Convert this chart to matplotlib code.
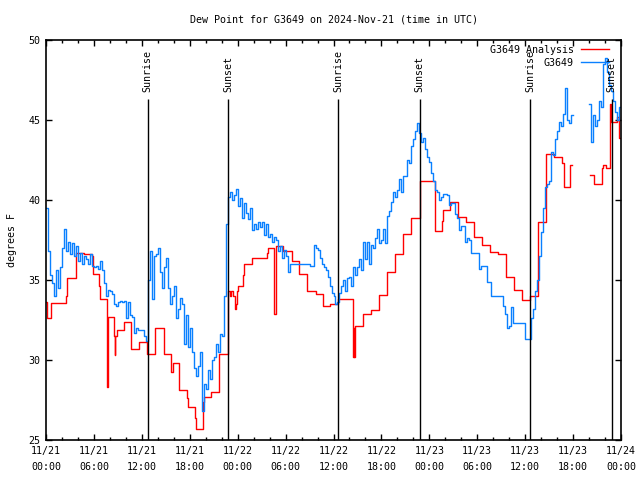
import numpy as np
import pandas as pd
import matplotlib
matplotlib.use("Agg")
import matplotlib.pyplot as plt
import matplotlib.dates as mdates

start = pd.Timestamp("2024-11-21 00:00")

# station obs, 4 readings per hour (every 15 min); nan = missing
obs_rows = [
    [39.5, 36.8, 35.3, 34.8],  # 11/21 00
    [34.0, 35.6, 34.5, 35.8],
    [37.0, 38.2, 36.8, 37.4],
    [36.6, 37.3, 36.5, 37.1],
    [36.2, 36.7, 36.0, 36.5],
    [36.3, 36.0, 36.6, 35.9],
    [35.8, 35.9, 35.7, 36.2],  # 06
    [35.6, 34.8, 34.0, 34.4],
    [34.3, 34.1, 33.5, 33.4],
    [33.6, 33.7, 33.6, 33.7],
    [32.6, 33.6, 32.8, 32.7],
    [31.7, 32.0, 31.9, 31.9],
    [31.9, 31.5, 31.2, 35.0],  # 12
    [36.8, 33.8, 36.5, 36.6],
    [37.0, 35.5, 34.5, 35.8],
    [36.4, 34.5, 33.5, 34.0],
    [34.6, 32.6, 33.2, 33.9],
    [33.5, 31.0, 32.8, 30.8],
    [32.0, 30.5, 29.5, 29.0],  # 18
    [29.6, 30.5, 26.8, 28.5],
    [28.2, 29.4, 28.8, 30.0],
    [30.2, 31.0, 30.5, 31.6],
    [31.5, 34.0, 38.5, 40.2],
    [40.5, 40.0, 40.3, 40.7],
    [39.6, 40.1, 38.9, 39.8],  # 11/22 00
    [39.2, 38.8, 39.5, 38.1],
    [38.5, 38.2, 38.6, 38.3],
    [38.6, 37.8, 38.5, 37.7],
    [37.9, 37.4, 37.7, 37.5],
    [36.8, 37.1, 36.4, 36.9],
    [36.5, 35.5, 36.0, 36.0],  # 06
    [36.0, 36.0, 36.0, 36.0],
    [36.0, 36.0, 36.0, 36.0],
    [35.9, 35.9, 37.2, 37.0],
    [36.9, 36.4, 36.0, 35.8],
    [35.6, 35.2, 34.6, 34.2],
    [34.0, 33.5, 33.6, 34.2],  # 12
    [34.6, 35.0, 34.3, 35.1],
    [35.2, 34.6, 35.8, 35.3],
    [35.8, 36.3, 35.6, 37.4],
    [36.3, 37.4, 36.0, 37.2],
    [37.0, 37.6, 38.2, 37.3],
    [37.5, 38.2, 37.3, 39.0],  # 18
    [39.3, 39.9, 40.5, 40.2],
    [40.6, 41.3, 40.5, 41.5],
    [41.5, 42.5, 42.3, 43.4],
    [43.8, 44.3, 44.8, 44.2],
    [43.6, 43.9, 43.2, 42.7],
    [42.4, 41.7, 41.2, 40.6],  # 11/23 00
    [40.5, 40.0, 40.2, 40.4],
    [40.4, 40.3, 39.7, 39.8],
    [39.8, 39.1, 38.9, 38.1],
    [38.4, 38.4, 37.4, 37.6],
    [37.5, 36.7, 36.7, 36.7],
    [36.7, 35.7, 35.9, 35.9],  # 06
    [35.9, 34.9, 34.9, 34.0],
    [34.0, 34.0, 34.0, 34.0],
    [34.0, 33.4, 32.9, 32.0],
    [32.1, 33.3, 32.3, 32.3],
    [32.3, 32.3, 32.3, 32.3],
    [31.3, 31.3, 31.3, 32.6],  # 12
    [33.2, 34.3, 35.0, 36.5],
    [38.0, 39.5, 40.8, 41.0],
    [41.2, 43.0, 42.8, 43.8],
    [44.3, 44.9, 44.6, 45.4],
    [47.0, 45.0, 44.8, 45.3],
    [np.nan] * 4,              # 18
    [np.nan] * 4,
    [46.0, 43.6, 45.3, 44.6],
    [45.0, 46.2, 45.8, 48.5],
    [48.9, 48.0, 47.2, 46.8],
    [46.2, 45.5, 45.0, 45.8],
]

# analysis: hours after start where the value changes, and the new value
red_hours = [0.0, 0.1, 0.67, 2.45, 2.67, 3.7, 4.8, 5.7, 5.9, 6.6, 6.76, 7.7, 7.75,
             8.5, 8.6, 8.7, 8.9, 9.77, 10.7, 11.7, 12.7, 13.7, 14.75, 15.7, 15.85,
             16.7, 17.7, 17.75, 18.7, 18.75, 19.7, 19.8, 20.7, 21.7, 22.8, 23.0,
             23.2, 23.4, 23.65, 23.75, 23.9, 24.07, 24.7, 24.78, 25.74, 27.7, 27.8,
             28.55, 28.75, 29.7, 30.75, 31.7, 32.7, 33.75, 34.7, 35.6, 36.55, 38.5,
             38.55, 38.6, 38.65, 38.75, 39.7, 40.7, 41.7, 42.7, 43.7, 44.7, 45.7,
             46.8, 48.7, 49.6, 49.7, 50.6, 51.65, 52.6, 53.6, 54.6, 55.6, 56.6,
             57.6, 58.6, 59.6, 60.6, 61.6, 62.6, 63.6, 64.6, 64.8, 65.65, 65.9,
             68.1, 68.6, 69.6, 69.8, 70.1, 70.6, 70.7, 71.5, 71.7, 72.0]
red_vals = [33.6, 32.6, 33.55, 34.0, 35.1, 36.7, 36.6, 36.5, 35.4, 34.6, 33.8, 28.3, 32.7,
            31.5, 30.3, 31.5, 31.9, 32.4, 30.7, 31.1, 30.4, 32.0, 30.4, 29.25, 29.8,
            28.1, 27.6, 27.06, 26.35, 25.7, 27.4, 27.7, 28.0, 30.4, 34.3, 34.0,
            34.3, 34.0, 33.2, 33.5, 34.3, 34.6, 35.3, 36.0, 36.4, 36.7, 37.0,
            32.9, 37.1, 36.8, 36.2, 35.4, 34.3, 34.1, 33.4, 33.5, 33.8, 30.2,
            32.0, 30.2, 30.4, 32.1, 32.9, 33.1, 34.06, 35.5, 36.6, 37.9, 38.9,
            41.2, 38.06, 38.7, 39.4, 39.9, 38.96, 38.65, 37.67, 37.2, 36.77, 36.6,
            35.2, 34.4, 33.75, 34.0, 38.6, 42.9, 42.7, 42.3, 40.8, 42.2, np.nan,
            41.56, 41.0, 42.0, 42.2, 42.0, 46.0, 44.9, 45.2, 43.9, 43.9]

sun_hours = [12.75, 22.8, 36.55, 46.8, 60.6, 70.85]
sun_labels = ["Sunrise", "Sunset", "Sunrise", "Sunset", "Sunrise", "Sunset"]

obs_vals = np.array(obs_rows).ravel()
obs_vals = np.append(obs_vals, obs_vals[-1])
obs_t = start + pd.to_timedelta(np.arange(len(obs_vals)) * 0.25, unit="h")
red_t = start + pd.to_timedelta(red_hours, unit="h")
sun_t = start + pd.to_timedelta(sun_hours, unit="h")

font = "DejaVu Sans Mono"
fs = 7.2
plt.rcParams["font.family"] = font
plt.rcParams["font.size"] = fs

fig = plt.figure(figsize=(6.4, 4.8), dpi=100)
ax = fig.add_axes([46 / 640, 40 / 480, 575 / 640, 400 / 480])

ax.step(red_t, red_vals, where="post", color="#ff0000", lw=1.0, label="G3649 Analysis")
ax.step(obs_t, obs_vals, where="post", color="#0a80ff", lw=1.0, label="G3649")

ax.vlines(sun_t, 25, 46.3, color="black", lw=1.0)
for t, lab in zip(sun_t, sun_labels):
    ax.text(t, 46.75, lab, rotation=90, ha="center", va="bottom", fontsize=fs)

ax.set_xlim(start, start + pd.Timedelta(hours=72))
ax.set_ylim(25, 50)
ax.set_yticks([25, 30, 35, 40, 45, 50])
ax.xaxis.set_major_locator(mdates.HourLocator(byhour=[0, 6, 12, 18]))
ax.xaxis.set_minor_locator(mdates.HourLocator(interval=2))
ax.xaxis.set_major_formatter(mdates.DateFormatter("%m/%d\n%H:%M"))

ax.tick_params(which="both", direction="in", top=True, right=True, width=1.0)
ax.tick_params(which="major", length=4.5, pad=4)
ax.tick_params(which="minor", length=2.5)
for s in ax.spines.values():
    s.set_linewidth(1.2)

ax.set_ylabel("degrees F", labelpad=8)
fig.text(333.5 / 640, 1 - 20 / 480, "Dew Point for G3649 on 2024-Nov-21 (time in UTC)",
         ha="center", va="center", fontsize=fs)

ax.legend(loc="upper right", bbox_to_anchor=(1.0, 1.0175), frameon=False,
          markerfirst=False, handlelength=2.8, borderaxespad=0.8, labelspacing=0.3,
          handletextpad=0.7, fontsize=fs)

fig.canvas.draw()
for lbl in ax.get_xticklabels():
    lbl.set_linespacing(1.8)

fig.savefig("out.png", dpi=100)
